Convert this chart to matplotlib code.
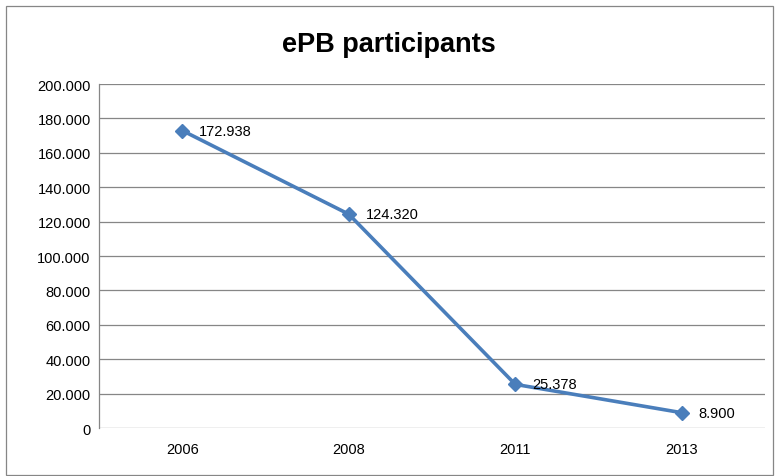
import numpy as np
import matplotlib
matplotlib.use('Agg')
import matplotlib.pyplot as plt
from matplotlib.patches import Rectangle

years = ['2006', '2008', '2011', '2013']
participants = [172938, 124320, 25378, 8900]

def dotfmt(v):
    return '{:,}'.format(int(v)).replace(',', '.')

plt.rcParams['font.family'] = ['Liberation Sans', 'DejaVu Sans']

fig = plt.figure(figsize=(7.77, 4.77), dpi=100)
ax = fig.add_axes([0.1274, 0.1006, 0.8572, 0.7212])

x = np.arange(len(years))
ax.plot(x, participants, color='#4a7ebb', lw=2.6, marker='D', ms=7, zorder=3)
for xi, v in zip(x, participants):
    ax.annotate(dotfmt(v), (xi, v), xytext=(12, 0), textcoords='offset points',
                va='center', ha='left', fontsize=10.5, color='black')

ax.set_xlim(-0.5, 3.5)
ax.set_ylim(0, 200000)
ax.set_yticks(np.arange(0, 200001, 20000))
ax.set_yticklabels([dotfmt(t) for t in np.arange(0, 200001, 20000)], fontsize=10.5)
ax.set_xticks(x)
ax.set_xticklabels(years, fontsize=10.5)
ax.tick_params(length=0, pad=6)
ax.tick_params(axis='x', pad=10)
ax.grid(axis='y', color='#868686', lw=0.9)
ax.set_axisbelow(True)
for s in ['top', 'right', 'bottom']:
    ax.spines[s].set_visible(False)
ax.spines['left'].set_color('#868686')
ax.spines['left'].set_linewidth(0.9)

fig.text(0.5, 0.905, 'ePB participants', ha='center', va='center',
         fontsize=19.5, fontweight='bold')

fig.patches.append(Rectangle((6 / 777, 0.002), 767 / 777, 1 - 8 / 477,
                             transform=fig.transFigure, fill=False,
                             edgecolor='#868686', lw=0.9))

fig.savefig('out.png', dpi=100)
